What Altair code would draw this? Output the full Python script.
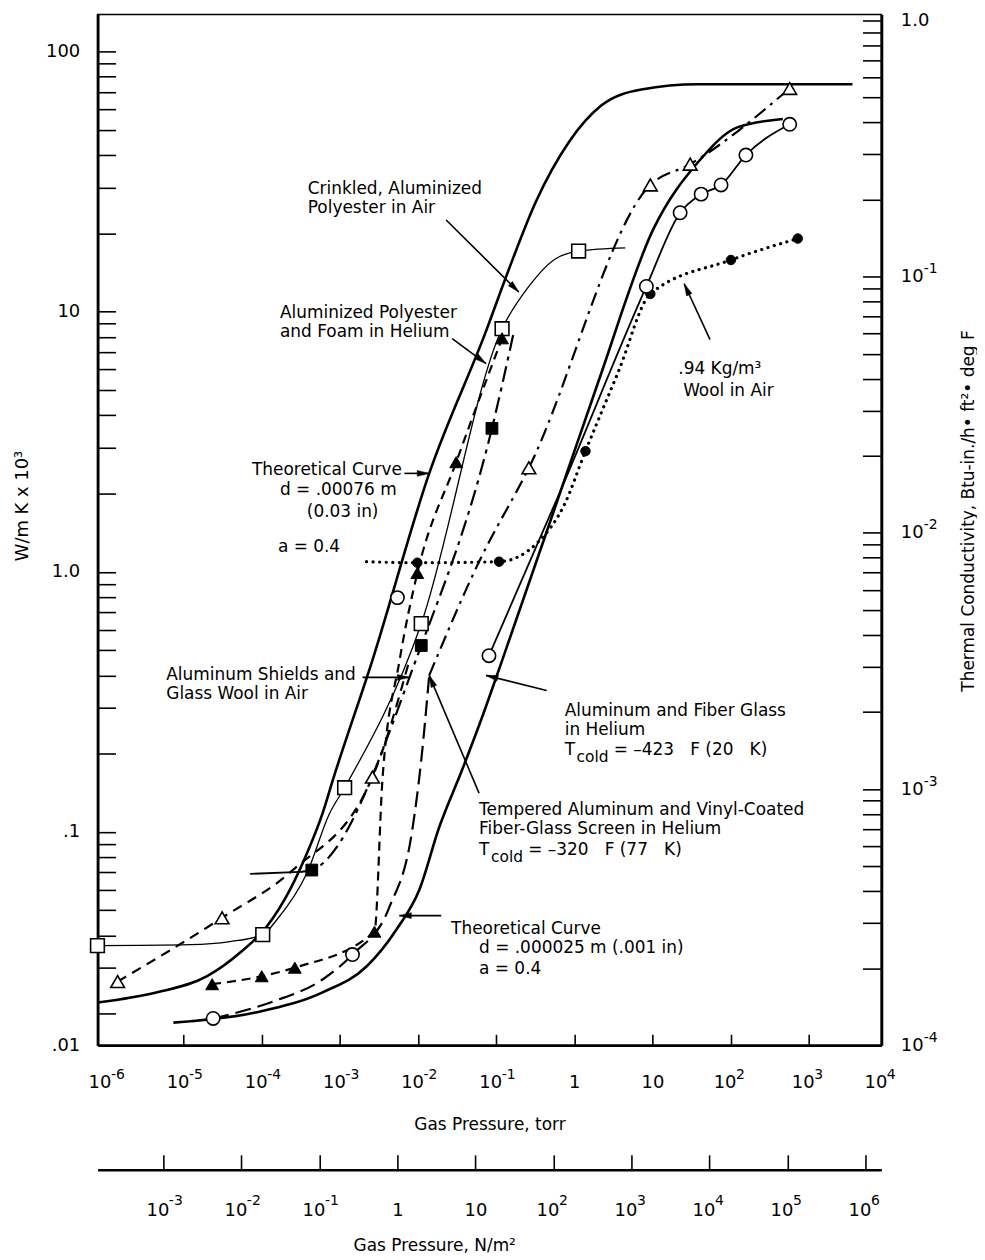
import math
import altair as alt
import pandas as pd

FONT = "DejaVu Sans"
W, H = 787, 1035
X_DOM = [7.94e-7, 8.51e3]         # gas pressure, torr
X_EDGE_DOM = [7.94e-7, 1.0e4]     # same axis, used only for the 10^4 end label
Y_DOM = [0.01514, 138.7]          # W/m K x 10^3
Y2_DOM = [1.0e-4, 1.054]          # Btu-in/h ft2 F
PA_DOM = [1.436e-4, 1.60e6]       # N/m2

# ---------------- data series (pressure in torr, conductivity in W/m K x 10^3) -------------
theo1_x = [7.9e-7, 4.6e-6, 2.0e-5, 5.3e-5, 1.16e-4, 2.3e-4, 3.8e-4, 6.0e-4, 8.1e-4, 2.6e-3,
           0.0139, 0.074, 0.146, 0.321, 0.85, 2.23, 7.2, 38.5, 3630]
theo1_y = [0.0221, 0.0242, 0.0279, 0.0344, 0.0433, 0.060, 0.083, 0.118, 0.158, 0.456,
           2.39, 8.4, 14.6, 26.4, 44.8, 62.1, 71.4, 74.8, 74.8]

theo2_x = [7.4e-6, 8.7e-5, 6.0e-4, 2.19e-3, 5.3e-3, 0.0104, 0.0187, 0.0366, 0.066, 0.119,
           0.69, 2.04, 10.3, 38.5, 124, 466]
theo2_y = [0.0185, 0.0203, 0.0242, 0.0304, 0.0422, 0.060, 0.1045, 0.173, 0.276, 0.456,
           2.10, 5.4, 20.8, 37.6, 51.2, 55.0]

crinkled_x = [7.9e-7, 1.22e-5, 3.9e-5, 1.03e-4, 1.56e-4, 3.8e-4, 7.4e-4, 1.15e-3, 0.011,
              0.119, 0.262, 0.545, 1.135, 4.5]
crinkled_y = [0.0366, 0.0369, 0.0379, 0.0403, 0.046, 0.0697, 0.118, 0.148, 0.632,
              8.6, 12.5, 15.8, 17.1, 17.6]
crinkled_px = [7.9e-7, 1.03e-4, 1.15e-3, 0.011, 0.119, 1.135]
crinkled_py = [0.0366, 0.0403, 0.148, 0.632, 8.6, 17.1]

foam_x = [2.32e-5, 1.0e-4, 2.65e-4, 2.77e-3, 3.5e-3, 5.8e-3, 9.8e-3, 0.0308, 0.119]
foam_y = [0.026, 0.0279, 0.0301, 0.0414, 0.158, 0.456, 0.99, 2.64, 7.9]
foam_px = [2.32e-5, 1.0e-4, 2.65e-4, 2.77e-3, 9.8e-3, 0.0308, 0.119]
foam_py = [0.026, 0.0279, 0.0301, 0.0414, 0.99, 2.64, 7.9]

shields_x = [1.43e-6, 3.11e-5, 2.5e-4, 2.61e-3, 7.74e-3]
shields_y = [0.0266, 0.0468, 0.0714, 0.1626, 0.456]
shields_px = [1.43e-6, 3.11e-5, 2.61e-3]
shields_py = [0.0266, 0.0468, 0.1626]

tempered_lo_x = [2.39e-5, 1.39e-4, 6.0e-4, 1.45e-3, 4.31e-3, 8.45e-3, 0.011, 0.0139]
tempered_lo_y = [0.0192, 0.0223, 0.0271, 0.0338, 0.0515, 0.102, 0.189, 0.40]
tempered_x = [0.0139, 0.0604, 0.262, 9.4, 30.4, 571]
tempered_y = [0.40, 1.094, 2.51, 30.7, 36.9, 72.1]
tempered_px = [0.262, 9.4, 30.4, 571]
tempered_py = [2.51, 30.7, 36.9, 72.1]

wool_x = [2.19e-3, 9.8e-3, 0.109, 0.351, 0.731, 1.39, 3.67, 9.4, 101, 723]
wool_y = [1.094, 1.084, 1.094, 1.31, 1.79, 2.91, 5.89, 11.7, 15.8, 19.1]
wool_px = [9.8e-3, 0.109, 1.39, 9.4, 101, 723]
wool_py = [1.084, 1.094, 2.91, 11.7, 15.8, 19.1]

fsq_lead_x = [7.1e-5, 3.1e-4]
fsq_lead_y = [0.069, 0.0702]
fsq_x = [3.1e-4, 4.37e-4, 0.011, 0.0883, 0.169]
fsq_y = [0.0702, 0.0714, 0.521, 3.56, 8.4]
fsq_px = [4.37e-4, 0.011, 0.0883]
fsq_py = [0.0714, 0.521, 3.56]

fiber_x = [0.0809, 0.69, 8.36, 22.6, 42.0, 75.5, 157, 571]
fiber_y = [0.476, 2.10, 12.5, 24.0, 28.3, 30.7, 40.0, 52.5]
fiber_px = [2.39e-5, 1.45e-3, 5.45e-3, 0.0809, 8.36, 22.6, 42.0, 75.5, 157, 571]
fiber_py = [0.0192, 0.0338, 0.796, 0.476, 12.5, 24.0, 28.3, 30.7, 40.0, 52.5]

# ---------------- annotations -------------
NB = "\u00a0"
lab_x = [3.88e-4, 3.88e-4, 1.71e-4, 1.71e-4, 7.5e-5, 1.71e-4, 3.77e-4, 1.61e-4,
         6.0e-6, 6.0e-6, 0.753, 0.753, 0.753, 3.2,
         0.0604, 0.0604, 0.0604, 0.257, 0.0265, 0.0604, 0.0604, 21.4, 24.7]
lab_y = [29.6, 25.0, 9.91, 8.38, 2.46, 2.06, 1.70, 1.247,
         0.40, 0.338, 0.291, 0.246, 0.206, 0.206,
         0.1214, 0.1027, 0.0853, 0.0853, 0.0425, 0.0359, 0.0297, 6.0, 4.94]
lab_t = ["Crinkled, Aluminized", "Polyester in Air", "Aluminized Polyester", "and Foam in Helium",
         "Theoretical Curve", "d = .00076 m", "(0.03 in)", "a = 0.4",
         "Aluminum Shields and", "Glass Wool in Air", "Aluminum and Fiber Glass", "in Helium", "T",
         "= \u2013423" + NB * 3 + "F (20" + NB * 3 + "K)",
         "Tempered Aluminum and Vinyl-Coated", "Fiber-Glass Screen in Helium", "T",
         "= \u2013320" + NB * 3 + "F (77" + NB * 3 + "K)", "Theoretical Curve",
         "d = .000025 m (.001 in)", "a = 0.4",
         ".94 Kg/m\u00b3", "Wool in Air"]
sub_x = [1.07, 0.0859]
sub_y = [0.194, 0.0802]
sub_t = ["cold", "cold"]

arrow_x1 = [0.0229, 0.0274, 6.68e-3, 1.95e-3, 0.443, 0.0604, 0.0198, 54.6]
arrow_y1 = [22.5, 7.88, 2.39, 0.393, 0.35, 0.141, 0.0477, 7.81]
arrow_x2 = [0.195, 0.0741, 0.0139, 7.74e-3, 0.0741, 0.0139, 5.77e-3, 25.5]
arrow_y2 = [11.9, 6.32, 2.39, 0.393, 0.40, 0.40, 0.0477, 12.8]

# ---------------- scales -------------
XS = alt.Scale(type="log", domain=X_DOM)
YS = alt.Scale(type="log", domain=Y_DOM)
PXX = W / (math.log10(X_DOM[1]) - math.log10(X_DOM[0]))
PXY = H / (math.log10(Y_DOM[1]) - math.log10(Y_DOM[0]))


def xy(xf="x", yf="y"):
    return dict(x=alt.X(f"{xf}:Q", scale=XS, axis=None), y=alt.Y(f"{yf}:Q", scale=YS, axis=None))


def line(xs, ys, width=2.0, dash=None, cap="butt"):
    df = pd.DataFrame({"x": xs, "y": ys, "o": list(range(len(xs)))})
    kw = dict(color="black", strokeWidth=width, interpolate="monotone", strokeCap=cap)
    if dash:
        kw["strokeDash"] = dash
    return alt.Chart(df).mark_line(**kw).encode(order="o:Q", **xy())


def pts(xs, ys, shape, filled, size=150):
    df = pd.DataFrame({"x": xs, "y": ys})
    if filled:
        m = alt.Chart(df).mark_point(shape=shape, filled=True, fill="black", stroke="black",
                                     strokeWidth=1, size=size, opacity=1)
    else:
        m = alt.Chart(df).mark_point(shape=shape, filled=True, fill="white", stroke="black",
                                     strokeWidth=1.6, size=size, opacity=1)
    return m.encode(**xy())


layers = [
    line(theo1_x, theo1_y, 2.6),
    line(theo2_x, theo2_y, 2.6),
    line(crinkled_x, crinkled_y, 1.3),
    line(foam_x, foam_y, 2.2, [9, 6]),
    line(shields_x, shields_y, 2.2, [10, 7]),
    line(tempered_lo_x, tempered_lo_y, 2.2, [16, 7]),
    line(tempered_x, tempered_y, 2.2, [14, 6, 3, 6]),
    line(wool_x, wool_y, 3.2, [0.1, 6.5], "round"),
    line(fsq_lead_x, fsq_lead_y, 1.8),
    line(fsq_x, fsq_y, 2.2, [16, 6, 4, 6]),
    line(fiber_x, fiber_y, 1.8),
    pts(crinkled_px, crinkled_py, "square", False, 190),
    pts(foam_px, foam_py, "triangle-up", True, 165),
    pts(shields_px, shields_py, "triangle-up", False, 190),
    pts(tempered_px, tempered_py, "triangle-up", False, 190),
    pts(wool_px, wool_py, "circle", True, 90),
    pts(fsq_px, fsq_py, "square", True, 140),
    pts(fiber_px, fiber_py, "circle", False, 180),
]

# annotations
lab_df = pd.DataFrame({"x": lab_x, "y": lab_y, "t": lab_t})
layers.append(alt.Chart(lab_df).mark_text(align="left", baseline="middle", font=FONT, fontSize=17,
                                          color="black").encode(text="t:N", **xy()))
sub_df = pd.DataFrame({"x": sub_x, "y": sub_y, "t": sub_t})
layers.append(alt.Chart(sub_df).mark_text(align="left", baseline="middle", font=FONT, fontSize=15.5,
                                          color="black").encode(text="t:N", **xy()))

angles = []
for x1, y1, x2, y2 in zip(arrow_x1, arrow_y1, arrow_x2, arrow_y2):
    dx = (math.log10(x2) - math.log10(x1)) * PXX
    dy = -(math.log10(y2) - math.log10(y1)) * PXY
    angles.append(math.degrees(math.atan2(dx, -dy)) % 360)
arr_df = pd.DataFrame({"x": arrow_x1, "y": arrow_y1, "x2": arrow_x2, "y2": arrow_y2, "a": angles})
layers.append(alt.Chart(arr_df).mark_rule(color="black", strokeWidth=1.6).encode(
    x=alt.X("x:Q", scale=XS, axis=None), y=alt.Y("y:Q", scale=YS, axis=None), x2="x2:Q", y2="y2:Q"))
layers.append(alt.Chart(arr_df).mark_point(shape="M0,0L0.42,1.7L-0.42,1.7Z", filled=True, fill="black",
                                           stroke="black", strokeWidth=0.5, size=200, opacity=1).encode(
    x=alt.X("x2:Q", scale=XS, axis=None), y=alt.Y("y2:Q", scale=YS, axis=None),
    angle=alt.Angle("a:Q", scale=None)))

data_group = alt.layer(*layers)

# ---------------- axes -------------
EXP = "round(log(datum.value)/LN10)"
BASE_LAB = f"({EXP} == 0) ? '1' : '10'"
EXP_LAB = f"(datum.value < 1 ? '-' : '') + abs({EXP})"
PLAIN = f"({EXP} == 0 || {EXP} == 1)"
LEFT_LAB = ("datum.value > 50 ? '100' : datum.value > 5 ? '10' : datum.value > 0.5 ? '1.0' : "
            "datum.value > 0.05 ? '.1' : '.01'")
RIGHT_BASE = "datum.value > 0.5 ? '1.0' : '10'"
RIGHT_EXP = f"'-' + abs({EXP})"

torr_decades = [1e-6, 1e-5, 1e-4, 1e-3, 1e-2, 1e-1, 1, 10, 100, 1e3]
torr_exp = [1e-6, 1e-5, 1e-4, 1e-3, 1e-2, 1e-1, 100, 1e3]
torr_end = [1e4]
torr_ticks = [1e-5, 1e-4, 1e-3, 1e-2, 1e-1, 1, 10, 100, 1e3]
pa_decades = [1e-3, 1e-2, 1e-1, 1, 10, 100, 1e3, 1e4, 1e5, 1e6]
pa_exp = [1e-3, 1e-2, 1e-1, 100, 1e3, 1e4, 1e5, 1e6]
left_minor = [k * 10.0 ** e for e in (-2, -1, 0, 1) for k in range(1, 10)
              if Y_DOM[0] <= k * 10.0 ** e <= Y_DOM[1]] + [100.0]
right_minor = [k * 10.0 ** e for e in (-4, -3, -2, -1) for k in range(1, 10)] + [1.0]
right_major = [1.0, 0.1, 0.01, 0.001, 0.0001]
right_exp = [0.1, 0.01, 0.001, 0.0001]

pt = pd.DataFrame({"x": [1.0], "y": [1.0], "p": [1.0], "b": [0.01]})
PS = alt.Scale(type="log", domain=PA_DOM)
Y2S = alt.Scale(type="log", domain=Y2_DOM)
XES = alt.Scale(type="log", domain=X_EDGE_DOM)

COMMON = dict(grid=False, labelFlush=False, labelOverlap=False)

# torr base labels + left labels
ax1 = alt.Chart(pt).mark_point(opacity=0).encode(
    x=alt.X("x:Q", scale=XS, axis=alt.Axis(
        orient="bottom", values=torr_decades, labelExpr=BASE_LAB, ticks=False, domain=True,
        domainWidth=2.6, title="Gas Pressure, torr", labelPadding=28, titlePadding=26,
        labelFontSize=18,
        labelOffset={"condition": {"test": PLAIN, "value": 0}, "value": -6}, **COMMON)),
    y=alt.Y("y:Q", scale=YS, axis=alt.Axis(
        orient="left", values=[100, 10, 1, 0.1, Y_DOM[0]], labelExpr=LEFT_LAB, ticks=False,
        domain=True, domainWidth=2.8, title="W/m K x 10\u00b3", labelPadding=18, titlePadding=14,
        labelFontSize=18, titleFontSize=18, titleY=493, **COMMON)),
)
# tick marks (inward)
ax2 = alt.Chart(pt).mark_point(opacity=0).encode(
    x=alt.X("x:Q", scale=XS, axis=alt.Axis(
        orient="bottom", values=torr_ticks, labels=False, domain=False, ticks=True, tickSize=11,
        offset=-11, tickWidth=1.6, title=None, grid=False)),
    y=alt.Y("y:Q", scale=YS, axis=alt.Axis(
        orient="left", values=left_minor, labels=False, domain=False, ticks=True, tickSize=18,
        offset=-18, tickWidth=1.6, title=None, grid=False)),
)
# exponents: torr + right axis
ax3 = alt.Chart(pt).mark_point(opacity=0).encode(
    x=alt.X("x:Q", scale=XS, axis=alt.Axis(
        orient="bottom", values=torr_exp, labelExpr=EXP_LAB, ticks=False, domain=False,
        labelPadding=22, labelFontSize=14, labelAlign="left", labelOffset=5, title=None, **COMMON)),
    y=alt.Y("b:Q", scale=Y2S, axis=alt.Axis(
        orient="right", values=right_exp, labelExpr=RIGHT_EXP, ticks=False, domain=False,
        labelPadding=42, labelOffset=-8, labelFontSize=14, title=None, **COMMON)),
)
# N/m2 base labels + right base labels
ax4 = alt.Chart(pt).mark_point(opacity=0).encode(
    x=alt.X("p:Q", scale=PS, axis=alt.Axis(
        orient="bottom", values=pa_decades, labelExpr=BASE_LAB, ticks=False, domain=True,
        domainWidth=2.6, offset=125, title="Gas Pressure, N/m\u00b2", labelPadding=32,
        titlePadding=18, labelFontSize=18, titleX=338,
        labelOffset={"condition": {"test": PLAIN, "value": 0}, "value": -6}, **COMMON)),
    y=alt.Y("b:Q", scale=Y2S, axis=alt.Axis(
        orient="right", values=right_major, labelExpr=RIGHT_BASE, ticks=False,
        domain=True, domainWidth=2.8, title="Thermal Conductivity, Btu-in./h\u2022 ft\u00b2\u2022 deg F",
        titleAngle=270, labelPadding=19, titlePadding=49, labelFontSize=18, titleY=498, **COMMON)),
)
# N/m2 ticks + right ticks
ax5 = alt.Chart(pt).mark_point(opacity=0).encode(
    x=alt.X("p:Q", scale=PS, axis=alt.Axis(
        orient="bottom", values=pa_decades, labels=False, domain=False, ticks=True, tickSize=15,
        offset=110, tickWidth=1.6, title=None, grid=False)),
    y=alt.Y("b:Q", scale=Y2S, axis=alt.Axis(
        orient="right", values=right_minor, labels=False, domain=False, ticks=True, tickSize=19,
        offset=-19, tickWidth=1.6, title=None, grid=False)),
)
# N/m2 exponents
ax6 = alt.Chart(pt).mark_point(opacity=0).encode(
    x=alt.X("p:Q", scale=PS, axis=alt.Axis(
        orient="bottom", values=pa_exp, labelExpr=EXP_LAB, ticks=False, domain=False,
        offset=125, labelPadding=24, labelFontSize=14, labelAlign="left", labelOffset=5,
        title=None, **COMMON)),
    y=alt.Y("b:Q", scale=Y2S, axis=None),
)
# 10^4 label at the right end of the torr axis
ax7 = alt.Chart(pt).mark_point(opacity=0).encode(
    x=alt.X("x:Q", scale=XES, axis=alt.Axis(
        orient="bottom", values=torr_end, labelExpr=BASE_LAB, ticks=False, domain=False,
        labelPadding=28, labelFontSize=18, labelOffset=-6, title=None, **COMMON)),
    y=alt.Y("y:Q", scale=YS, axis=None),
)
ax8 = alt.Chart(pt).mark_point(opacity=0).encode(
    x=alt.X("x:Q", scale=XES, axis=alt.Axis(
        orient="bottom", values=torr_end, labelExpr=EXP_LAB, ticks=False, domain=False,
        labelPadding=22, labelFontSize=14, labelAlign="left", labelOffset=5, title=None, **COMMON)),
    y=alt.Y("y:Q", scale=YS, axis=None),
)

chart = alt.layer(ax1, ax2, ax3, ax4, ax5, ax6, ax7, ax8, data_group).resolve_scale(
    x="independent", y="independent"
).properties(
    width=W, height=H, padding={"left": 5, "top": 0, "right": 0, "bottom": 0}
).configure_view(
    stroke="black", strokeWidth=1.5
).configure_axis(
    labelFont=FONT, titleFont=FONT, labelColor="black", titleColor="black", domainColor="black",
    tickColor="black", titleFontWeight="normal", titleFontSize=17
)

chart.save("out.html", embed_options={"renderer": "svg", "actions": False})
